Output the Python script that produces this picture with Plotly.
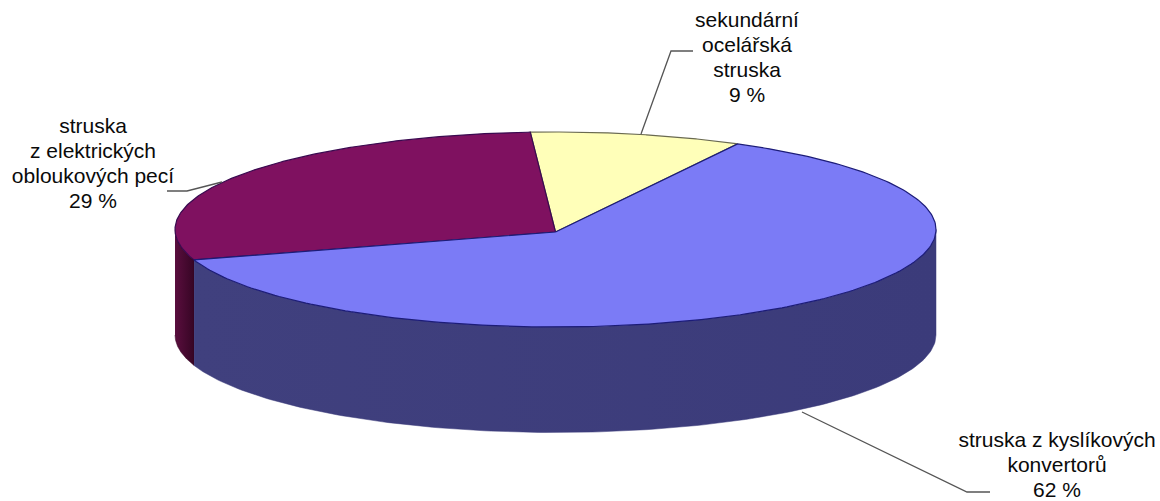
import numpy as np
import plotly.graph_objects as go

# Slag types and their shares in percent, drawn counter-clockwise from START_DEG
categories = ["sekundární ocelářská struska",
              "struska z elektrických obloukových pecí",
              "struska z kyslíkových konvertorů"]
shares = [9, 29, 62]
share_labels = ["9 %", "29 %", "62 %"]
name_lines = [["sekundární", "ocelářská", "struska"],
              ["struska", "z elektrických", "obloukových pecí"],
              ["struska z kyslíkových", "konvertorů"]]

top_colors = ["#FFFFB9", "#7F1160", "#7B7BF6"]
side_colors = [("#7F7F5C", "#7F7F5C"), ("#5A0E3E", "#360524"), ("#40407E", "#3B3B7A")]
edge_colors = ["#6A6A50", "#3A0A50", "#1C1C78"]

# Projected disc geometry on a pixel-sized plotting area
CX, CY, RX, RY, DEPTH = 555.5, 229.5, 380.5, 97.5, 105.5
APEX_Y = 232.0
START_DEG = 61.4

# Callout label anchors and leader lines
label_x = [747, 93, 1057]
label_top = [22, 128, 442]
LINE_STEP = 24.8
leaders = [([641, 671, 693], [134, 51, 51]),
           ([222, 187, 167], [182, 191, 191]),
           ([802, 967, 990], [412, 492, 492])]


def rim(deg):
    t = np.radians(deg)
    return CX + RX * np.cos(t), CY - RY * np.sin(t)


fig = go.Figure()

bounds = START_DEG + np.concatenate([[0], np.cumsum(shares)]) * 3.6

# Outer wall: only the part of each slice on the front half of the disc is visible
for i in range(len(shares)):
    lo, hi = bounds[i], bounds[i + 1]
    for shift in (0, 360):
        a = max(lo, 180 + shift)
        b = min(hi, 360 + shift)
        if b <= a:
            continue
        x, y = rim(np.linspace(a, b, 160))
        fig.add_trace(go.Scatter(
            x=np.concatenate([x, x[::-1]]),
            y=np.concatenate([y, y[::-1] + DEPTH]),
            mode="lines", line=dict(color=side_colors[i][1], width=0.5),
            fill="toself",
            fillgradient=dict(type="horizontal",
                              colorscale=[[0, side_colors[i][0]], [1, side_colors[i][1]]]),
            hoverinfo="skip"))

# Top face of every slice
for i in range(len(shares)):
    x, y = rim(np.linspace(bounds[i], bounds[i + 1], 240))
    fig.add_trace(go.Scatter(
        x=np.concatenate([[CX], x, [CX]]),
        y=np.concatenate([[APEX_Y], y, [APEX_Y]]),
        mode="lines", line=dict(color=edge_colors[i], width=1.2),
        fill="toself", fillcolor=top_colors[i],
        name=categories[i], hoverinfo="skip"))

# Leader lines
for lx, ly in leaders:
    fig.add_trace(go.Scatter(x=lx, y=ly, mode="lines",
                             line=dict(color="#555555", width=1.3),
                             hoverinfo="skip"))

# Labels are placed line by line to keep the wide line pitch
for i in range(len(shares)):
    lines = name_lines[i] + [share_labels[i]]
    fig.add_trace(go.Scatter(
        x=[label_x[i]] * len(lines),
        y=[label_top[i] + k * LINE_STEP for k in range(len(lines))],
        mode="text", text=lines, textposition="middle center",
        textfont=dict(family="Liberation Sans, Arial, sans-serif", size=21, color="#0A0A0A"),
        hoverinfo="skip", cliponaxis=False))

fig.update_layout(
    width=1160, height=501,
    margin=dict(l=0, r=0, t=0, b=0),
    paper_bgcolor="white", plot_bgcolor="white",
    showlegend=False,
    xaxis=dict(range=[0, 1160], visible=False, fixedrange=True),
    yaxis=dict(range=[501, 0], visible=False, fixedrange=True),
)

fig.write_html("out.html")
